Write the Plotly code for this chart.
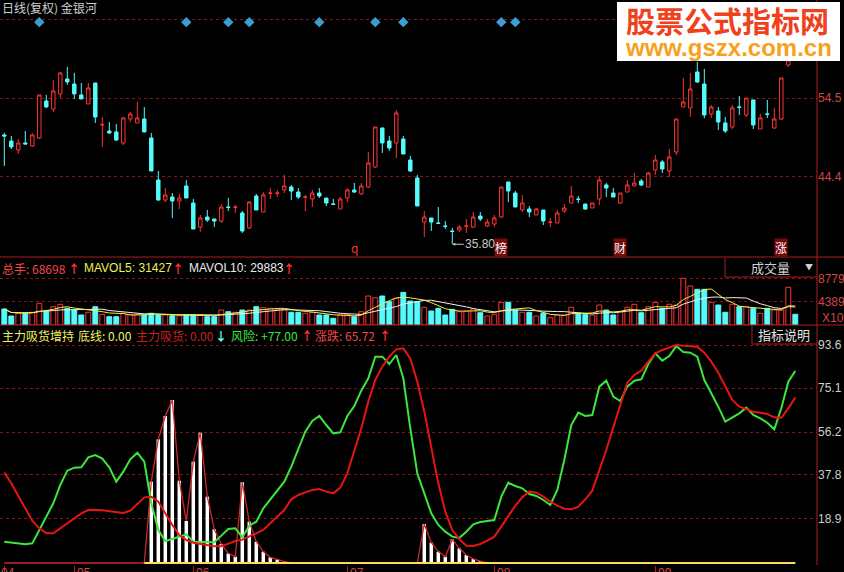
import plotly.graph_objects as go
import pandas as pd

# ---------------- data ----------------
open_p = [
    49.77, 49.00, 47.85, 48.75, 48.36, 49.39, 54.12, 53.10, 55.02, 56.93,
    56.29, 54.89, 53.74, 56.42, 51.05, 50.28, 50.16, 48.75, 51.82, 51.31,
    51.82, 49.39, 44.02, 41.46, 41.84, 41.33, 43.25, 41.07, 38.00, 39.28,
    39.03, 38.77, 40.56, 40.51, 39.80, 37.88, 41.97, 39.92, 42.30, 42.30,
    42.74, 43.12, 42.48, 41.79, 41.59, 42.35, 41.71, 40.95, 40.31, 41.71,
    42.74, 42.23, 43.12, 45.68, 50.67, 49.00, 48.75, 49.26, 46.57, 44.27,
    38.64, 39.16, 38.52, 38.13, 37.49, 37.62, 38.08, 38.00, 39.41, 38.13,
    38.39, 39.28, 43.76, 42.35, 40.18, 40.31, 39.54, 40.18, 38.59, 38.52,
    40.05, 41.07, 41.59, 40.95, 40.44, 41.59, 43.38, 42.35, 41.07, 42.48,
    43.25, 43.89, 43.12, 45.30, 46.32, 45.17, 47.60, 53.35, 53.23, 57.83,
    56.29, 52.46, 52.84, 51.31, 50.80, 53.35, 52.33, 54.25, 50.54, 52.46,
    50.67, 51.82, 58.72, 61.40]
high_p = [
    50.03, 49.64, 49.26, 50.28, 50.03, 54.89, 54.89, 56.81, 57.83, 58.47,
    57.70, 56.42, 56.42, 56.42, 52.07, 51.43, 51.18, 52.07, 52.71, 53.99,
    53.35, 50.03, 45.17, 42.99, 42.35, 42.23, 44.02, 41.59, 39.54, 40.18,
    39.03, 40.95, 41.71, 40.82, 40.05, 41.33, 42.23, 42.48, 42.99, 42.74,
    44.66, 43.38, 42.99, 42.10, 42.74, 42.99, 41.71, 41.59, 41.84, 42.99,
    43.63, 43.63, 47.60, 50.80, 50.67, 49.64, 52.97, 49.64, 47.09, 44.66,
    40.05, 39.16, 40.56, 38.77, 37.88, 38.26, 39.03, 39.92, 39.92, 39.03,
    39.54, 43.12, 43.76, 42.61, 42.10, 40.69, 40.44, 40.18, 39.16, 40.18,
    40.95, 43.25, 41.97, 40.95, 41.07, 44.53, 43.63, 42.99, 42.35, 44.02,
    44.91, 44.15, 45.04, 47.21, 46.57, 47.98, 51.82, 57.06, 57.70, 59.11,
    58.21, 53.61, 53.35, 52.07, 53.61, 54.76, 54.50, 54.25, 52.46, 54.25,
    53.23, 57.06, 60.00, 61.80]
low_p = [
    45.81, 47.98, 47.34, 48.62, 48.24, 49.26, 53.23, 52.71, 54.50, 56.17,
    54.38, 54.38, 53.74, 51.31, 48.24, 49.90, 49.00, 48.49, 51.43, 51.31,
    50.16, 45.17, 41.33, 41.20, 39.16, 40.31, 41.71, 37.75, 37.37, 38.64,
    38.00, 38.52, 40.05, 39.80, 37.24, 37.75, 40.18, 39.92, 41.59, 41.84,
    42.35, 41.46, 41.59, 40.05, 40.56, 41.71, 40.69, 40.90, 40.31, 41.20,
    42.35, 42.10, 42.99, 45.55, 47.47, 47.73, 46.83, 47.34, 45.04, 40.69,
    36.73, 37.49, 38.39, 37.75, 35.80, 37.37, 37.24, 37.88, 38.77, 38.00,
    38.00, 39.16, 41.20, 40.56, 39.92, 39.28, 39.54, 38.26, 38.00, 38.52,
    39.80, 41.07, 41.07, 40.18, 40.44, 40.82, 41.84, 41.84, 40.95, 42.48,
    43.25, 43.25, 43.12, 44.66, 44.91, 44.40, 47.21, 53.35, 52.07, 56.42,
    51.95, 51.95, 50.41, 50.03, 50.54, 52.33, 52.07, 50.54, 50.54, 51.95,
    50.54, 51.69, 58.47, 60.60]
close_p = [
    49.64, 48.24, 48.75, 48.62, 49.77, 54.89, 53.35, 55.40, 57.70, 56.55,
    55.02, 54.38, 55.78, 52.07, 51.10, 50.03, 49.13, 51.95, 52.46, 51.95,
    50.16, 45.17, 41.46, 42.10, 41.33, 41.71, 41.71, 37.75, 39.16, 38.90,
    38.77, 40.56, 40.51, 40.56, 37.49, 41.20, 40.18, 42.10, 42.35, 42.35,
    43.25, 42.61, 41.84, 41.84, 42.35, 41.97, 41.07, 40.90, 41.59, 42.74,
    42.48, 43.25, 46.19, 50.80, 48.75, 48.11, 52.59, 47.34, 45.17, 40.69,
    39.28, 38.64, 38.47, 38.08, 37.44, 38.00, 38.13, 39.28, 39.03, 38.64,
    39.16, 43.12, 42.61, 40.56, 41.07, 39.92, 40.31, 38.77, 38.64, 39.80,
    40.44, 41.97, 41.54, 40.31, 41.07, 44.02, 42.99, 41.84, 42.35, 43.38,
    43.63, 43.38, 44.91, 46.57, 45.42, 46.96, 51.82, 53.99, 55.66, 56.55,
    52.33, 53.35, 51.43, 50.28, 53.23, 53.30, 54.50, 51.05, 51.95, 52.41,
    51.82, 57.06, 59.36, 60.90]
volume = [
    3014, 1696, 2204, 2204, 2393, 4088, 2638, 3448, 3900, 3146,
    2826, 1884, 2393, 3448, 2016, 1564, 1564, 2204, 2016, 2016,
    1884, 2204, 1884, 1884, 1752, 1752, 1884, 1884, 1884, 1564,
    1564, 2826, 2506, 2393, 2826, 2826, 3448, 3259, 3146, 2958,
    2826, 2393, 2393, 2204, 2393, 1884, 1884, 1262, 1884, 2016,
    1564, 2506, 5464, 5143, 5464, 4390, 5030, 6161, 4522, 4390,
    3335, 2638, 3146, 1884, 2958, 2506, 2638, 3014, 2317, 1696,
    2016, 4277, 4277, 2826, 2393, 2393, 1696, 2204, 1375, 1884,
    1884, 3335, 2204, 2016, 1884, 3768, 2826, 1884, 2506, 3335,
    3900, 2317, 3448, 4277, 3146, 3900, 3768, 8798, 7348, 6726,
    6726, 4277, 3768, 2393, 3900, 3448, 3448, 3146, 2204, 3146,
    2826, 2826, 7103, 2016]
risk = [  # 风险 (green)
    9.16, 8.87, 8.44, 8.01, 8.44, 14.17, 19.89, 25.62, 33.49, 39.64,
    40.93, 41.08, 45.37, 46.37, 44.80, 41.08, 34.92, 39.21, 44.51, 47.37,
    43.51, 25.62, 14.17, 9.45, 10.30, 11.31, 12.31, 9.16, 9.02, 9.02,
    8.87, 11.74, 14.60, 14.88, 11.02, 16.03, 17.75, 23.47, 27.34, 30.91,
    34.92, 41.36, 49.23, 56.39, 60.97, 63.12, 59.25, 55.67, 56.10, 63.12,
    67.41, 73.99, 79.29, 88.59, 88.59, 85.44, 89.31, 79.29, 57.82, 38.50,
    29.91, 21.32, 16.32, 13.45, 11.31, 10.73, 13.45, 16.60, 17.60, 17.89,
    18.46, 28.48, 34.49, 33.06, 32.06, 29.63, 28.77, 27.05, 24.90, 31.34,
    44.22, 59.25, 64.55, 63.12, 63.55, 75.71, 78.29, 71.42, 69.56, 75.71,
    78.29, 78.86, 85.44, 90.02, 86.87, 88.88, 93.17, 90.59, 90.31, 88.59,
    78.57, 72.85, 67.12, 60.68, 62.54, 64.26, 66.69, 63.55, 62.11, 60.25,
    57.39, 66.41, 77.86, 82.44]
trend = [  # 涨跌 (red)
    38.79, 34.21, 28.77, 23.47, 18.18, 14.88, 12.74, 12.74, 14.88, 17.32,
    19.18, 21.32, 22.76, 22.90, 22.61, 22.18, 21.90, 21.47, 22.47, 25.33,
    28.19, 28.48, 26.33, 21.32, 16.32, 12.02, 9.88, 8.73, 8.16, 7.87,
    7.16, 7.16, 8.44, 9.45, 10.02, 11.31, 12.74, 14.17, 17.03, 19.89,
    22.76, 27.34, 29.20, 30.34, 31.34, 31.77, 30.63, 29.91, 32.35, 38.50,
    47.80, 57.82, 69.27, 78.57, 84.30, 88.59, 91.74, 92.17, 87.88, 77.86,
    64.98, 49.95, 34.21, 22.04, 14.17, 10.30, 7.44, 7.30, 8.16, 9.59,
    11.31, 15.60, 20.32, 24.62, 28.19, 30.63, 30.20, 28.48, 26.33, 24.62,
    23.33, 23.04, 24.19, 27.34, 31.06, 39.64, 48.52, 58.25, 67.84, 77.43,
    80.72, 82.58, 86.44, 90.02, 91.45, 92.60, 93.60, 93.31, 93.17, 92.88,
    90.31, 86.44, 81.72, 75.71, 69.99, 67.12, 65.98, 64.98, 64.55, 63.97,
    62.54, 62.40, 66.41, 71.13]
absorb = [  # 主力吸货 (white bars)
    0, 0, 0, 0, 0, 0, 0, 0, 0, 0,
    0, 0, 0, 0, 0, 0, 0, 0, 0, 0,
    0, 34.92, 53.10, 63.12, 69.99, 35.35, 18.03, 43.51, 55.96, 28.48,
    14.46, 8.16, 4.15, 2.72, 34.64, 17.75, 9.16, 4.87, 2.43, 1.57,
    0.6, 0, 0, 0, 0, 0, 0, 0, 0, 0,
    0, 0, 0, 0, 0, 0, 0, 0, 0, 0,
    16.75, 8.73, 4.87, 2.72, 10.16, 6.30, 3.43, 1.72, 0.8, 0,
    0, 0, 0, 0, 0, 0, 0, 0, 0, 0,
    0, 0, 0, 0, 0, 0, 0, 0, 0, 0,
    0, 0, 0, 0, 0, 0, 0, 0, 0, 0,
    0, 0, 0, 0, 0, 0, 0, 0, 0, 0,
    0, 0, 0, 0]
baseline_start = 20          # 底线 drawn from this bar on
baseline_value = 0.0
signal_bars = [5, 26, 32, 35, 45, 53, 57, 71, 73]
signal_level = 64.2
month_bars = [0, 10, 27, 49, 70, 93]
month_labels = ["04", "05", "06", "07", "08", "09"]
event_bars = [50, 71, 88, 111]
event_labels = ["q", "榜", "财", "涨"]
low_bar = 64
price_ticks = [44.4, 54.5, 64.6]
price_ticktext = ["44.4", "54.5", ""]
vol_ticks = [4389, 8779]
ind_ticks = [18.9, 37.8, 56.2, 75.1, 93.6]

# ---------------- styling ----------------
W, H = 844, 572
PLOT_W = 817
UP = "#ff3232"
DN = "#54fcfc"
GRID = "#8a1414"
FRAME = "#b01c1c"
CJK = "Noto Sans CJK SC"
LAT = "Liberation Sans, Noto Sans CJK SC"


def PX(x):
    return x / PLOT_W


def PY(y):
    return 1 - y / H


n = len(close_p)
idx = list(range(n))
XR = [-0.614, 116.1]

ma5 = pd.Series(volume).rolling(5, min_periods=1).mean()
ma10 = pd.Series(volume).rolling(10, min_periods=1).mean()
is_up = [c > o for o, c in zip(open_p, close_p)]
baseline = [None] * baseline_start + [baseline_value] * (n - baseline_start)

fig = go.Figure()

# --- price panel ---
fig.add_trace(go.Candlestick(
    x=idx, open=open_p, high=high_p, low=low_p, close=close_p,
    increasing=dict(line=dict(color=UP, width=1), fillcolor="black"),
    decreasing=dict(line=dict(color=DN, width=1), fillcolor=DN),
    whiskerwidth=0, xaxis="x", yaxis="y", hoverinfo="skip"))
fig.add_trace(go.Scatter(
    x=signal_bars, y=[signal_level] * len(signal_bars), mode="markers",
    marker=dict(symbol="diamond", size=8, color="#3a9ed4"),
    xaxis="x", yaxis="y", hoverinfo="skip"))

# --- volume panel ---
fig.add_trace(go.Bar(
    x=idx, y=volume, width=0.7,
    marker=dict(color=["black" if u else DN for u in is_up],
                line=dict(color=[UP if u else DN for u in is_up], width=1)),
    xaxis="x2", yaxis="y2", hoverinfo="skip"))
fig.add_trace(go.Scatter(x=idx, y=ma10, mode="lines",
                         line=dict(color="#f0f0f0", width=1),
                         xaxis="x2", yaxis="y2", hoverinfo="skip"))
fig.add_trace(go.Scatter(x=idx, y=ma5, mode="lines",
                         line=dict(color="#f0f040", width=1),
                         xaxis="x2", yaxis="y2", hoverinfo="skip"))

# --- indicator panel ---
fig.add_trace(go.Bar(x=idx, y=absorb, width=0.5,
                     marker=dict(color="white", line=dict(width=0)),
                     xaxis="x3", yaxis="y3", hoverinfo="skip"))
fig.add_trace(go.Scatter(x=idx, y=absorb, mode="lines",
                         line=dict(color="#d02828", width=1.3),
                         xaxis="x3", yaxis="y3", hoverinfo="skip"))
fig.add_trace(go.Scatter(x=idx, y=baseline, mode="lines",
                         line=dict(color="#ffd860", width=2),
                         xaxis="x3", yaxis="y3", hoverinfo="skip"))
fig.add_trace(go.Scatter(x=idx, y=risk, mode="lines",
                         line=dict(color="#3ce63c", width=2),
                         xaxis="x3", yaxis="y3", hoverinfo="skip"))
fig.add_trace(go.Scatter(x=idx, y=trend, mode="lines",
                         line=dict(color="#e81414", width=2),
                         xaxis="x3", yaxis="y3", hoverinfo="skip"))

xcommon = dict(range=XR, domain=[0, 1], showgrid=False, zeroline=False,
               showline=False, fixedrange=True)
ycommon = dict(side="right", zeroline=False, showline=False, ticks="",
               gridcolor=GRID, griddash="dot", gridwidth=1, automargin=False,
               fixedrange=True)

fig.update_layout(
    width=W, height=H, margin=dict(l=0, r=W - PLOT_W, t=0, b=0),
    paper_bgcolor="black", plot_bgcolor="black", showlegend=False,
    hovermode=False,
    xaxis=dict(**xcommon, anchor="y", showticklabels=False,
               rangeslider=dict(visible=False)),
    xaxis2=dict(**xcommon, anchor="y2", showticklabels=False),
    xaxis3=dict(**xcommon, anchor="y3", showticklabels=False,
                ticks="outside", ticklen=7, tickcolor=FRAME,
                tickvals=month_bars),
    yaxis=dict(**ycommon, domain=[PY(257), 1], range=[34.17, 67.03],
               tickvals=price_ticks, ticktext=price_ticktext,
               tickfont=dict(family=LAT, size=12, color="#d04848")),
    yaxis2=dict(**ycommon, domain=[PY(325), PY(258)], range=[0, 12623],
                tickvals=vol_ticks, ticktext=[str(v) for v in vol_ticks],
                tickfont=dict(family=LAT, size=12, color="#d04848")),
    yaxis3=dict(**ycommon, domain=[PY(565), PY(327)], range=[-0.86, 101.33],
                tickvals=ind_ticks, ticktext=[f"{v:.1f}" for v in ind_ticks],
                tickfont=dict(family=LAT, size=12, color="#cfcfcf")),
)

shapes = []
XR_EDGE = W / PLOT_W
# frame lines
shapes.append(dict(type="line", xref="paper", yref="paper", x0=1, x1=1,
                   y0=PY(565), y1=1, line=dict(color=FRAME, width=1)))
for yy in (257, 325):
    shapes.append(dict(type="line", xref="paper", yref="paper", x0=0,
                       x1=XR_EDGE, y0=PY(yy), y1=PY(yy),
                       line=dict(color=FRAME, width=1)))
# 成交量 box
shapes.append(dict(type="path", xref="paper", yref="paper",
                   path=f"M {PX(725)} {PY(258)} L {PX(725)} {PY(277)} L {1} {PY(277)}",
                   line=dict(color=FRAME, width=1)))
# 指标说明 box
shapes.append(dict(type="path", xref="paper", yref="paper",
                   path=f"M {PX(752)} {PY(325)} L {PX(752)} {PY(344)} L {1} {PY(344)}",
                   line=dict(color=FRAME, width=1)))
# watermark box
shapes.append(dict(type="rect", xref="paper", yref="paper", layer="above",
                   x0=PX(617), x1=PX(840), y0=PY(61), y1=PY(2),
                   fillcolor="white", line=dict(width=0)))
fig.update_layout(shapes=shapes)

ann = []


def txt(x, y, s, color, size=12, family=CJK, xanchor="left", **kw):
    ann.append(dict(x=PX(x), y=PY(y), xref="paper", yref="paper", text=s,
                    showarrow=False, xanchor=xanchor, yanchor="middle",
                    font=dict(family=family, size=size, color=color), **kw))


txt(0, 8, "日线(复权) 金银河", "#cfcfcf")

# volume header
txt(0, 268, "总手: 68698", "#f04848")
txt(66, 268, "<b>↑</b>", "#ff3030")
txt(82, 268, "MAVOL5: 31427", "#f0f050", family=LAT)
txt(170, 268, "<b>↑</b>", "#ff3030")
txt(187, 268, "MAVOL10: 29883", "#ececec", family=LAT)
txt(281, 268, "<b>↑</b>", "#ff3030")
txt(770, 267, "成交量", "#cfcfcf", size=13, xanchor="center")
txt(809, 266, "▼", "#cfcfcf", size=8, xanchor="center")
txt(820, 318, "X100", "#d04848", family=LAT)

# indicator header
txt(0, 335, "主力吸货增持", "#f0f060")
txt(76, 335, "底线: 0.00", "#f0f060")
txt(134, 335, "主力吸货: 0.00", "#c82020")
txt(213, 335, "<b>↓</b>", DN)
txt(229, 335, "风险: +77.00", "#3ce63c")
txt(299, 335, "<b>↑</b>", "#ff3030")
txt(313, 335, "涨跌: 65.72", "#f04848")
txt(377, 335, "<b>↑</b>", "#ff3030")
txt(784, 334, "指标说明", "#e6e6e6", size=13, xanchor="center")

# month labels
for b, lab in zip(month_bars, month_labels):
    ann.append(dict(x=b, y=PY(564), xref="x3", yref="paper", text=lab,
                    showarrow=False, xanchor="left", yanchor="top",
                    xshift=-5 if b == 0 else 1,
                    font=dict(family=LAT, size=12, color="#d04848")))

# event labels on the price panel
for b, lab in zip(event_bars, event_labels):
    boxed = lab != "q"
    ann.append(dict(x=b, y=PY(248), xref="x", yref="paper", text=lab,
                    showarrow=False, xanchor="center", yanchor="middle",
                    bgcolor="#7a0a0a" if boxed else None, borderpad=0,
                    font=dict(family=CJK, size=12,
                              color="#f4f4f4" if boxed else "#ff3030")))

# lowest price marker
ann.append(dict(x=low_bar, y=low_p[low_bar], xref="x", yref="y",
                text=f"{low_p[low_bar]:.2f}", showarrow=True, ax=28, ay=0,
                arrowhead=2, arrowsize=0.6, arrowwidth=1, arrowcolor="#c8c8c8",
                font=dict(family=LAT, size=12, color="#c8c8c8")))

# watermark text
ann.append(dict(x=PX(727), y=PY(20), xref="paper", yref="paper",
                xanchor="center", yanchor="middle",
                text="<b>股票公式指标网</b>", showarrow=False,
                font=dict(family=CJK, size=29, color="#f0401c")))
ann.append(dict(x=PX(728), y=PY(47), xref="paper", yref="paper",
                xanchor="center", yanchor="middle",
                text="<b>www.gszx.com.cn</b>", showarrow=False,
                font=dict(family="Liberation Sans", size=24, color="#f7a11c")))

fig.update_layout(annotations=ann)

fig.write_html("out.html",
               config={"displayModeBar": False, "staticPlot": True},
               post_script="document.body.style.margin='0px';"
                           "document.body.style.overflow='hidden';")
